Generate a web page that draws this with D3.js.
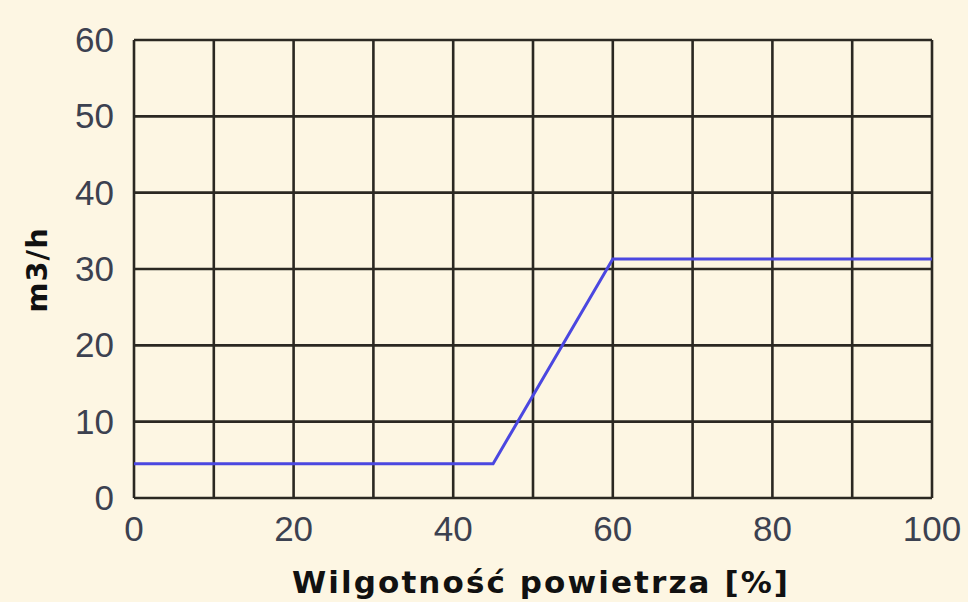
<!DOCTYPE html>
<html><head><meta charset="utf-8">
<script src="https://cdn.jsdelivr.net/npm/d3@7"></script>
<style>html,body{margin:0;padding:0;background:#fdf6e3;}svg{display:block;}</style>
</head><body>
<script>
const xTicks = [0, 20, 40, 60, 80, 100];
const yTicks = [0, 10, 20, 30, 40, 50, 60];
const humidity = [0, 45, 60, 100];
const flow = [4.5, 4.5, 31.3, 31.3];
const xTitle = "Wilgotność powietrza [%]";
const yTitle = "m3/h";

const W = 968, H = 602;
const m = {left:134, right:36, top:40, bottom:104};
const svg = d3.select("body").append("svg").attr("width", W).attr("height", H);
svg.append("rect").attr("width", W).attr("height", H).attr("fill", "#fdf6e3");

const x = d3.scaleLinear().domain([0,100]).range([m.left, W-m.right]);
const y = d3.scaleLinear().domain([0,60]).range([H-m.bottom, m.top]);

const g = svg.append("g");
g.selectAll(".vx").data(d3.range(0,101,10)).join("line")
  .attr("x1", d=>x(d)).attr("x2", d=>x(d)).attr("y1", y(0)).attr("y2", y(60))
  .attr("stroke", "#2b2822").attr("stroke-width", 2.6);
g.selectAll(".hy").data(d3.range(0,61,10)).join("line")
  .attr("y1", d=>y(d)).attr("y2", d=>y(d)).attr("x1", x(0)).attr("x2", x(100))
  .attr("stroke", "#2b2822").attr("stroke-width", 2.6);

const line = d3.line().x((d,i)=>x(humidity[i])).y(d=>y(d));
svg.append("path").datum(flow).attr("d", line).attr("fill","none")
  .attr("stroke", "#4b47e0").attr("stroke-width", 3);

svg.selectAll(".xt").data(xTicks).join("text")
  .attr("x", d=>x(d)).attr("y", y(0)+43).attr("text-anchor","middle")
  .attr("font-family","Liberation Sans, Arial, sans-serif").attr("font-size",35)
  .attr("fill","#3c4150").text(d=>d);
svg.selectAll(".yt").data(yTicks).join("text")
  .attr("x", x(0)-20).attr("y", d=>y(d)+12).attr("text-anchor","end")
  .attr("font-family","Liberation Sans, Arial, sans-serif").attr("font-size",35)
  .attr("fill","#3c4150").text(d=>d);

svg.append("text").attr("x", 292).attr("y", 593).attr("text-anchor","start")
  .attr("font-family","DejaVu Sans, Verdana, sans-serif").attr("font-weight","bold").attr("font-size",31)
  .attr("textLength", 496).attr("lengthAdjust","spacing")
  .attr("fill","#111").text(xTitle);
svg.append("text").attr("transform", `translate(47,270) rotate(-90)`).attr("text-anchor","middle")
  .attr("font-family","DejaVu Sans, Verdana, sans-serif").attr("font-weight","bold").attr("font-size",29)
  .attr("letter-spacing", 1)
  .attr("fill","#111").text(yTitle);
</script>
</body></html>
